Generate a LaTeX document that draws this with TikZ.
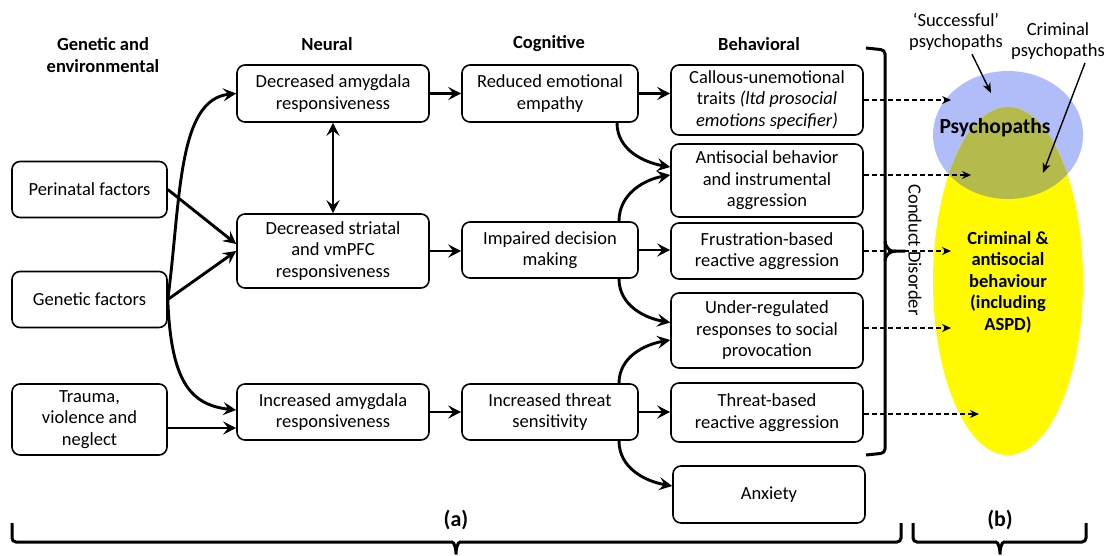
\documentclass[tikz,border=0pt]{standalone}
\usepackage{fontspec}
\setmainfont{Carlito}
\usetikzlibrary{arrows.meta}
\definecolor{psyblue}{RGB}{176,189,248}
\definecolor{crimyellow}{RGB}{255,250,0}
\definecolor{overlapolive}{RGB}{180,186,76}

\begin{document}
\begin{tikzpicture}[x=1pt, y=1pt,
    box/.style={draw, rounded corners=8pt, line width=1.6pt, align=center, inner xsep=4pt, inner ysep=3pt, minimum height=56pt, font=\fontsize{18.5}{21.5}\selectfont},
    head/.style={align=center, font=\fontsize{18.5}{21.5}\selectfont\bfseries},
    plain/.style={align=center, font=\fontsize{18.5}{21}\selectfont},
    arr/.style={line width=2.9pt, -{Stealth[length=13pt,width=13pt,inset=5pt]}},
    dblarr/.style={line width=2.9pt, {Stealth[length=13pt,width=13pt,inset=5pt]}-{Stealth[length=13pt,width=13pt,inset=5pt]}},
    dasharr/.style={line width=1.3pt, dash pattern=on 5pt off 3pt, -{Stealth[length=9pt,width=8pt,inset=3pt]}},
    pointer/.style={line width=1.4pt, -{Stealth[length=10pt,width=8pt,inset=3pt]}},
    bracket/.style={line width=3pt, rounded corners=4pt}]
    \useasboundingbox (0,0) rectangle (1106,-555);

    \node[head] (hgen)    at (103,-55) {Genetic and\\environmental};
    \node[head] (hneural) at (327,-44) {Neural};
    \node[head] (hcog)    at (549,-44) {Cognitive};
    \node[head] (hbeh)    at (759,-44) {Behavioral};

    \node[box, minimum width=155pt] (perinatal) at (89.5,-189.5) {Perinatal factors};
    \node[box, minimum width=155pt] (genetic)   at (89.5,-299.5) {Genetic factors};
    \node[box, minimum width=155pt, minimum height=71pt] (trauma) at (89.5,-419.5) {Trauma,\\violence and\\neglect};

    \node[box, minimum width=192pt, minimum height=57pt] (amygdown) at (333,-93.5) {Decreased amygdala\\responsiveness};
    \node[box, minimum width=192pt, minimum height=74pt] (striatal) at (333,-251)  {Decreased striatal\\and vmPFC\\responsiveness};
    \node[box, minimum width=192pt] (amygup) at (333,-412) {Increased amygdala\\responsiveness};

    \node[box, minimum width=176pt, minimum height=57pt] (empathy) at (550,-93.5) {Reduced emotional\\empathy};
    \node[box, minimum width=176pt] (decision) at (550,-250) {Impaired decision\\making};
    \node[box, minimum width=176pt] (threat)   at (550,-412) {Increased threat\\sensitivity};

    \node[box, minimum width=192pt, minimum height=70pt] (callous)    at (767,-100)   {Callous-unemotional\\traits \textit{(ltd prosocial}\\\textit{emotions specifier)}};
    \node[box, minimum width=192pt, minimum height=73pt] (antisocial) at (767,-180.5) {Antisocial behavior\\and instrumental\\aggression};
    \node[box, minimum width=192pt] (frustration) at (767,-251) {Frustration-based\\reactive aggression};
    \node[box, minimum width=192pt, minimum height=75pt] (underreg)   at (767,-330.5) {Under-regulated\\responses to social\\provocation};
    \node[box, minimum width=192pt, minimum height=59pt] (threatagg)  at (767,-412.5) {Threat-based\\reactive aggression};
    \node[box, minimum width=192pt, minimum height=57pt] (anxiety)    at (769,-494.5) {Anxiety};

    % Venn part (b)
    \fill[psyblue] (1008,-135) ellipse [x radius=75pt, y radius=64pt];
    \fill[crimyellow] (1008,-281) ellipse [x radius=75pt, y radius=174pt];
    \begin{scope}
        \clip (1008,-135) ellipse [x radius=75pt, y radius=64pt];
        \fill[overlapolive] (1008,-281) ellipse [x radius=75pt, y radius=174pt];
    \end{scope}
    \node[font=\fontsize{21.5}{24}\selectfont\bfseries] (psycho) at (995,-128) {Psychopaths};
    \node[head] (crimbeh) at (1008,-282) {Criminal \&\\antisocial\\behaviour\\(including\\ASPD)};
    \node[plain] (succ)    at (956,-32) {`Successful'\\psychopaths};
    \node[plain] (crimpsy) at (1058,-41) {Criminal\\psychopaths};
    \coordinate (succtip) at (991,-93);
    \coordinate (crimtip) at (1043,-173);
    \draw[pointer] ([xshift=16pt]succ.south) -- (succtip);
    \draw[pointer] ([xshift=27pt]crimpsy.south) -- (crimtip);

    \coordinate (dcallous)     at (951,-100);
    \coordinate (dantisocial)  at (971,-175);
    \coordinate (dfrustration) at (951,-251);
    \coordinate (dunderreg)    at (951,-328);
    \coordinate (dthreatagg)   at (979,-414);
    \draw[dasharr] (callous.east) -- (dcallous);
    \draw[dasharr] ([yshift=5.5pt]antisocial.east) -- (dantisocial);
    \draw[dasharr] (frustration.east) -- (dfrustration);
    \draw[dasharr] ([yshift=2.5pt]underreg.east) -- (dunderreg);
    \draw[dasharr] ([yshift=-1.5pt]threatagg.east) -- (dthreatagg);

    \draw[bracket] (866,-48) -- (885,-50) -- (885,-453) -- (866,-455);
    \draw[bracket] (885,-241) to[out=-90,in=180] (896,-251) -- (905,-251);
    \draw[bracket] (885,-261) to[out=90,in=180] (896,-251);
    \node[plain, rotate=-90] (conduct) at (915,-250) {Conduct Disorder};

    \draw[bracket] (12,-523) -- (12,-542) -- (448,-542) to[out=0,in=90] (456,-557) to[out=90,in=180] (464,-542) -- (901,-542) -- (901,-523);
    \draw[bracket] (913,-523) -- (913,-542) -- (992,-542) to[out=0,in=90] (1000,-557) to[out=90,in=180] (1008,-542) -- (1086,-542) -- (1086,-523);
    \node[font=\fontsize{22}{24}\selectfont\bfseries] (laba) at (456,-520) {(a)};
    \node[font=\fontsize{22}{24}\selectfont\bfseries] (labb) at (1000,-520) {(b)};

    \draw[arr] (perinatal.east) -- ([yshift=7pt]striatal.west);
    \draw[arr] (genetic.east) -- (striatal.west);
    \draw[arr] (genetic.east) .. controls +(13,99) and +(-59,-6) .. (amygdown.west);
    \draw[arr] (genetic.east) .. controls +(3,-80) and +(-47,5) .. ([yshift=2pt]amygup.west);
    \draw[arr] ([yshift=-8.5pt]trauma.east) -- ([yshift=-16pt]amygup.west);
    \draw[dblarr] (amygdown.south) -- (striatal.north);

    \draw[arr] (amygdown.east) -- (empathy.west);
    \draw[arr] (striatal.east) -- (striatal.east -| decision.west);
    \draw[arr] (amygup.east) -- (threat.west);

    \draw[arr] (empathy.east) -- (empathy.east -| callous.west);
    \draw[arr] (decision.east) -- (decision.east -| frustration.west);
    \draw[arr] (threat.east) -- (threat.east -| threatagg.west);
    \draw[arr] ([xshift=67pt]empathy.south) to[out=-90,in=170] ([yshift=13.5pt]antisocial.west);
    \draw[arr] ([xshift=69pt]decision.north) to[out=90,in=190] ([yshift=5.5pt]antisocial.west);
    \draw[arr] ([xshift=69pt]decision.south) to[out=-90,in=170] ([yshift=8pt]underreg.west);
    \draw[arr] ([xshift=69pt]threat.north) to[out=90,in=190] ([yshift=-9.5pt]underreg.west);
    \draw[arr] ([xshift=69pt]threat.south) to[out=-90,in=170] ([yshift=8.5pt]anxiety.west);
\end{tikzpicture}
\end{document}
